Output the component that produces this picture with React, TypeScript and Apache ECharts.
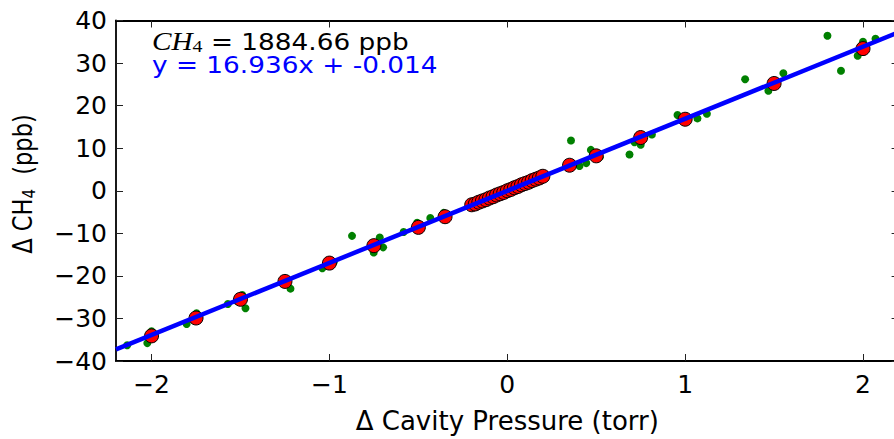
import React, { useEffect, useRef } from "react";
import * as echarts from "echarts";

// ---- data ----
const xTicks = [-2, -1, 0, 1, 2];
const yTicks = [-40, -30, -20, -10, 0, 10, 20, 30, 40];

// raw measurements (green)
const rawPoints: number[][] = [
  [-2.137, -36.3], [-2.024, -35.8], [-2.0, -33.0], [-1.99, -34.6], [-2.01, -33.6],
  [-1.803, -31.3], [-1.747, -28.8], [-1.76, -30.5], [-1.74, -29.6],
  [-1.571, -26.6], [-1.472, -27.6], [-1.49, -24.5], [-1.51, -25.2], [-1.52, -25.9],
  [-1.219, -23.0], [-1.26, -20.9], [-1.25, -21.6], [-1.24, -21.0],
  [-1.04, -18.2], [-0.976, -16.8], [-1.01, -16.6], [-0.99, -17.4], [-1.0, -17.6],
  [-0.873, -10.6],
  [-0.717, -11.0], [-0.698, -13.3], [-0.751, -14.5], [-0.76, -12.6], [-0.74, -12.2],
  [-0.583, -9.7], [-0.507, -7.5], [-0.49, -8.9], [-0.51, -8.2], [-0.433, -6.4],
  [-0.358, -5.2], [-0.34, -6.6], [-0.36, -6.0],
  [-0.21, -3.0], [-0.2, -3.9], [-0.19, -2.6], [-0.18, -3.6], [-0.17, -2.3], [-0.15, -3.1],
  [-0.14, -1.8], [-0.12, -2.7], [-0.11, -1.3], [-0.09, -2.0], [-0.08, -0.8], [-0.06, -1.5],
  [-0.05, -0.3], [-0.03, -1.0], [-0.02, 0.2], [0.0, -0.6], [0.01, 0.8], [0.03, 0.0],
  [0.04, 1.3], [0.06, 0.4], [0.07, 1.9], [0.09, 1.0], [0.1, 2.4], [0.12, 1.5],
  [0.13, 2.9], [0.15, 2.0], [0.16, 3.4], [0.18, 2.4], [0.19, 3.8], [0.21, 2.9],
  [0.358, 11.8], [0.35, 5.6], [0.34, 6.3], [0.406, 5.8],
  [0.444, 6.5], [0.47, 9.6], [0.49, 8.0], [0.51, 8.7], [0.52, 7.9],
  [0.687, 8.5], [0.715, 11.4], [0.75, 10.8], [0.76, 12.9], [0.813, 13.2], [0.74, 12.1],
  [0.957, 17.8], [1.069, 17.0], [1.122, 18.1], [1.0, 16.5], [0.99, 17.2],
  [1.337, 26.2], [1.552, 27.6], [1.468, 23.5], [1.49, 24.6], [1.51, 25.8],
  [1.8, 36.4], [1.876, 28.2], [2.0, 35.0], [1.97, 31.7], [2.07, 35.7], [2.0, 32.6], [1.99, 34.0],
];

// averaged set points (red)
const meanX = [
  -2, -1.75, -1.5, -1.25, -1, -0.75, -0.5, -0.35,
  -0.2, -0.18, -0.16, -0.14, -0.12, -0.1, -0.08, -0.06, -0.04, -0.02,
  0, 0.02, 0.04, 0.06, 0.08, 0.1, 0.12, 0.14, 0.16, 0.18, 0.2,
  0.35, 0.5, 0.75, 1, 1.5, 2,
];
const meanY = [
  -34.1, -29.9, -25.5, -21.3, -17.0, -12.9, -8.6, -6.1,
  -3.3, -3.1, -2.7, -2.4, -2.1, -1.7, -1.4, -1.0, -0.7, -0.4,
  0.0, 0.3, 0.7, 1.0, 1.4, 1.7, 2.0, 2.4, 2.7, 3.0, 3.4,
  6.0, 8.2, 12.5, 16.8, 25.2, 33.4,
];

// linear fit
const slope = 16.936;
const intercept = -0.014;
const ch4 = "1884.66";
const xRange = [-2.2, 2.2];
const yRange = [-40, 40];

const fmt = (v: number) => (v < 0 ? "\u2212" + Math.abs(v) : String(v));

export default function App() {
  const ref = useRef<HTMLDivElement>(null);
  useEffect(() => {
    if (!ref.current) return;
    const chart = echarts.init(ref.current, undefined, { renderer: "svg" });
    const font = "DejaVu Sans";
    const axisCommon = {
      type: "value" as const,
      axisLine: { show: true, onZero: false, lineStyle: { color: "#000", width: 1.8 } },
      axisTick: { show: true, inside: true, length: 7, lineStyle: { color: "#222", width: 1 } },
      splitLine: { show: false },
    };
    const fitLine = xRange.map((x) => [x, slope * x + intercept]);
    chart.setOption({
      animation: false,
      backgroundColor: "#fff",
      grid: { left: 116, right: 1.4, top: 20.5, bottom: 73.5, containLabel: false },
      xAxis: [
        {
          ...axisCommon,
          position: "bottom",
          min: xRange[0],
          max: xRange[1],
          axisTick: { ...axisCommon.axisTick, customValues: xTicks },
          axisLabel: {
            customValues: xTicks,
            formatter: fmt,
            color: "#000",
            fontFamily: font,
            fontSize: 25,
            margin: 11,
          },
          name: "\u0394 Cavity Pressure (torr)",
          nameLocation: "middle",
          nameGap: 47,
          nameTextStyle: { color: "#000", fontFamily: font, fontSize: 26 },
        },
        {
          ...axisCommon,
          position: "top",
          min: xRange[0],
          max: xRange[1],
          axisTick: { ...axisCommon.axisTick, customValues: xTicks },
          axisLabel: { show: false, customValues: xTicks },
        },
      ],
      yAxis: [
        {
          ...axisCommon,
          position: "left",
          min: yRange[0],
          max: yRange[1],
          interval: 10,
          axisLabel: {
            formatter: fmt,
            color: "#000",
            fontFamily: font,
            fontSize: 25,
            margin: 9,
          },
        },
        {
          ...axisCommon,
          position: "right",
          min: yRange[0],
          max: yRange[1],
          interval: 10,
          axisLabel: { show: false },
        },
      ],
      graphic: [
        {
          type: "text",
          x: 23,
          y: 184,
          rotation: Math.PI / 2,
          scaleY: 1.17,
          style: {
            text: "{a|\u0394 CH}{s|4}{a|  (ppb)}",
            align: "center",
            verticalAlign: "middle",
            rich: {
              a: { fontFamily: font, fontSize: 22.5, lineHeight: 26, fill: "#000", verticalAlign: "middle" },
              s: { fontFamily: font, fontSize: 15, lineHeight: 13, fill: "#000", verticalAlign: "bottom" },
            },
          },
        },
        {
          type: "text",
          x: 152,
          y: 42,
          scaleX: 1.17,
          style: {
            text: "{m|CH}{s|4}{a| = " + ch4 + " ppb}",
            align: "left",
            verticalAlign: "middle",
            rich: {
              m: { fontFamily: "Liberation Serif", fontStyle: "italic", fontSize: 25, lineHeight: 26, fill: "#000", verticalAlign: "middle" },
              s: { fontFamily: "Liberation Serif", fontSize: 17, lineHeight: 13, fill: "#000", verticalAlign: "bottom" },
              a: { fontFamily: font, fontSize: 22.5, lineHeight: 26, fill: "#000", verticalAlign: "middle" },
            },
          },
        },
        {
          type: "text",
          x: 152,
          y: 65,
          scaleX: 1.17,
          style: {
            text: "y = " + slope + "x + " + intercept,
            align: "left",
            verticalAlign: "middle",
            fontFamily: font,
            fontSize: 22.5,
            fill: "#0000ff",
          },
        },
      ],
      series: [
        {
          type: "scatter",
          data: rawPoints,
          symbolSize: 8,
          itemStyle: { color: "#008000", opacity: 1 },
          z: 2,
        },
        {
          type: "scatter",
          data: meanX.map((x, i) => [x, meanY[i]]),
          symbolSize: 14,
          itemStyle: { color: "#ff0000", borderColor: "#000", borderWidth: 1, opacity: 1 },
          z: 3,
        },
        {
          type: "line",
          data: fitLine,
          showSymbol: false,
          lineStyle: { color: "#0000ff", width: 4.5 },
          z: 4,
        },
      ],
    });
    return () => chart.dispose();
  }, []);
  return (
    <div style={{ position: "absolute", left: 0, top: 0, width: 894, height: 439, overflow: "hidden", background: "#fff" }}>
      <div ref={ref} style={{ width: 900, height: 439 }} />
    </div>
  );
}
